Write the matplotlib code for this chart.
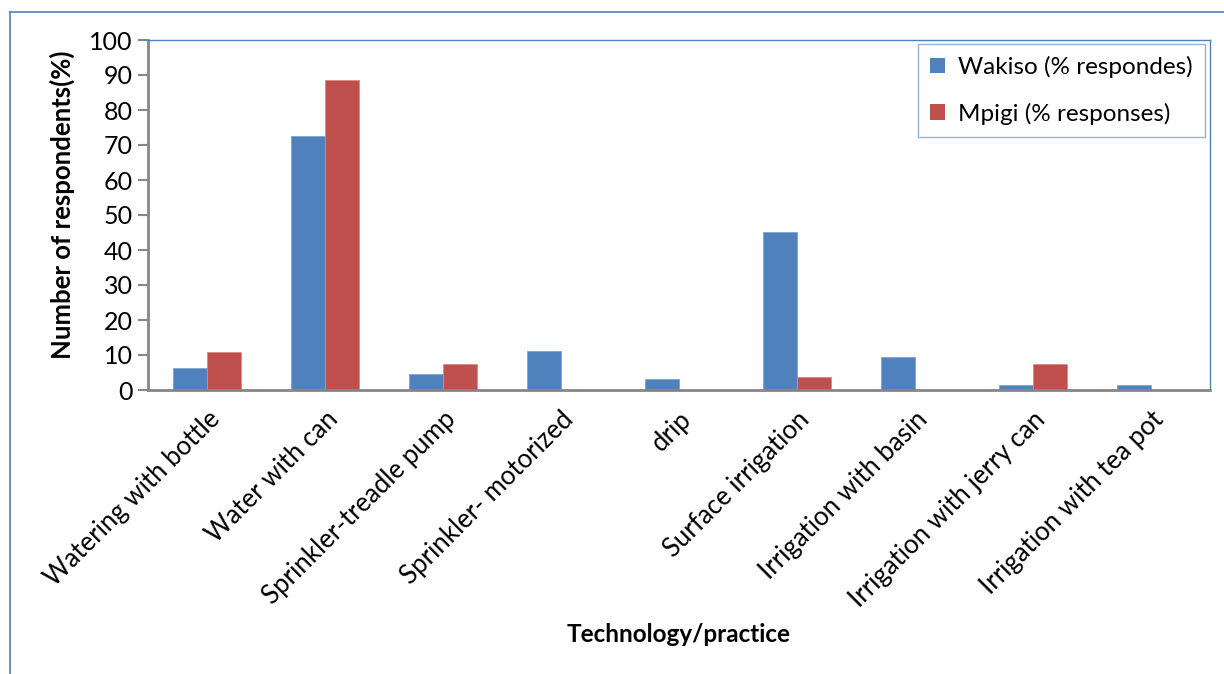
import matplotlib.pyplot as plt
import numpy as np
from matplotlib.patches import Patch
from matplotlib.lines import Line2D

categories = ['Watering with bottle', 'Water with can', 'Sprinkler-treadle pump',
              'Sprinkler- motorized', 'drip', 'Surface irrigation',
              'Irrigation with basin', 'Irrigation with jerry can',
              'Irrigation with tea pot']
wakiso = [6.3, 72.5, 4.7, 11.2, 3.1, 45.1, 9.5, 1.5, 1.5]
mpigi = [11.0, 88.7, 7.3, 0, 0, 3.6, 0, 7.3, 0]
yticks = [0, 10, 20, 30, 40, 50, 60, 70, 80, 90, 100]

plt.rcParams['font.family'] = ['Lato', 'DejaVu Sans']

blue = '#4F81BD'
red = '#C0504D'
grey = '#868686'

fig = plt.figure(figsize=(12.24, 6.74), dpi=100)
ax = fig.add_axes([148 / 1224, 1 - 390 / 674, (1210 - 148) / 1224, 350 / 674])

x = np.arange(len(categories))
w = 0.285
ax.bar(x - w / 2, wakiso, w, color=blue, edgecolor='#7FA3D0', linewidth=0.6)
ax.bar(x + w / 2, mpigi, w, color=red, edgecolor='#D98A88', linewidth=0.6)

ax.set_xlim(-0.5, len(categories) - 0.5)
ax.set_ylim(0, 100)
ax.set_yticks(yticks)
ax.set_xticks(x)
ax.set_xticklabels(categories, rotation=45, ha='right', rotation_mode='anchor', fontsize=18.5)
ax.tick_params(axis='x', length=0, pad=12)
ax.tick_params(axis='y', length=7, width=1.5, color=grey, labelsize=18, pad=4)

for s in ['left', 'bottom']:
    ax.spines[s].set_color(grey)
    ax.spines[s].set_linewidth(2)
for s in ['top', 'right']:
    ax.spines[s].set_color(blue)
    ax.spines[s].set_linewidth(1)

fig.text(62 / 1224, 1 - 205 / 674, 'Number of respondents(%)', rotation=90,
         ha='center', va='center', fontsize=18.5, fontweight='bold')
fig.text(679 / 1224, 1 - 635 / 674, 'Technology/practice',
         ha='center', va='center', fontsize=17.5, fontweight='bold')

handles = [Patch(facecolor=blue), Patch(facecolor=red)]
leg = fig.legend(handles, ['Wakiso (% respondes)', 'Mpigi (% responses)'],
                 loc='upper right', bbox_to_anchor=(1205 / 1224, 1 - 44 / 674),
                 fontsize=17.5, frameon=True, fancybox=False, handlelength=0.6,
                 handleheight=0.6, handletextpad=0.55, labelspacing=1.0,
                 borderpad=0.5, borderaxespad=0)
leg.get_frame().set_edgecolor('#7F9FC8')
leg.get_frame().set_linewidth(1)

# outer frame lines
fig.add_artist(Line2D([10 / 1224, 10 / 1224], [0, 1 - 12 / 674], color=blue, lw=1.2))
fig.add_artist(Line2D([10 / 1224, 1], [1 - 12 / 674, 1 - 12 / 674], color=blue, lw=1.2))

fig.savefig('out.png', dpi=100)
